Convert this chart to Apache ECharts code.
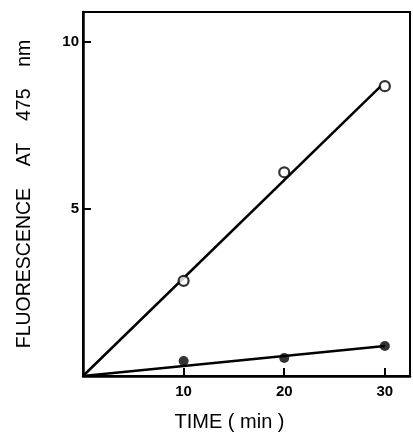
<!DOCTYPE html>
<html><head><meta charset="utf-8">
<script src="https://cdn.jsdelivr.net/npm/echarts@6/dist/echarts.min.js"></script>
<style>html,body{margin:0;padding:0;background:#fff}#c{width:413px;height:433px}</style>
</head><body><div id="c"></div>
<script>
var timeMin = [10, 20, 30];
var openVals = [2.85, 6.1, 8.68];
var filledVals = [0.45, 0.54, 0.9];
var openFitX = [0, 29.6];
var openFitY = [0, 8.68];
var filledFitX = [0, 30];
var filledFitY = [0, 0.9];
var xTicks = [10, 20, 30];
var yTicks = [5, 10];

function pairs(xs, ys){ return xs.map(function(x,i){ return [x, ys[i]]; }); }

var chart = echarts.init(document.getElementById('c'));
var font = 'Liberation Sans, Arial, sans-serif';
chart.setOption({
  animation: false,
  backgroundColor: '#fff',
  grid: {left: 83, right: 3, top: 12, bottom: 57, show: true, borderColor: '#000', borderWidth: 2,
    backgroundColor: 'transparent', containLabel: false, outerBoundsMode: 'none'},
  xAxis: {
    type: 'value', min: 0, max: 32.5,
    name: 'TIME ( min )', nameLocation: 'middle', nameGap: 36,
    nameTextStyle: {fontFamily: font, fontSize: 20, color: '#000', padding: [0, 34, 0, 0]},
    axisLine: {show: true, lineStyle: {color: '#000', width: 2.5}},
    axisTick: {show: true, inside: true, length: 8, customValues: xTicks, lineStyle: {color: '#000', width: 2}},
    axisLabel: {customValues: xTicks, margin: 8, fontFamily: font, fontWeight: 'bold', fontSize: 15, color: '#000'},
    splitLine: {show: false}
  },
  yAxis: {
    type: 'value', min: 0, max: 10.9,
    name: 'FLUORESCENCE    AT    475    nm', nameLocation: 'middle', nameGap: 48,
    nameTextStyle: {fontFamily: font, fontSize: 19.5, color: '#000'},
    axisLine: {show: true, lineStyle: {color: '#000', width: 2.5}},
    axisTick: {show: true, inside: true, length: 8, customValues: yTicks, lineStyle: {color: '#000', width: 2}},
    axisLabel: {customValues: yTicks, margin: 4, fontFamily: font, fontWeight: 'bold', fontSize: 15, color: '#000'},
    splitLine: {show: false}
  },
  series: [
    {type: 'line', data: pairs(openFitX, openFitY), symbol: 'none', lineStyle: {color: '#000', width: 2.5}, z: 2},
    {type: 'line', data: pairs(filledFitX, filledFitY), symbol: 'none', lineStyle: {color: '#000', width: 2.5}, z: 2},
    {type: 'scatter', data: pairs(timeMin, openVals), symbol: 'circle', symbolSize: 10,
      itemStyle: {color: '#fff', borderColor: '#000', borderWidth: 2.2}, z: 3},
    {type: 'scatter', data: pairs(timeMin, filledVals), symbol: 'circle', symbolSize: 10,
      itemStyle: {color: '#000'}, z: 3}
  ]
});
</script></body></html>
